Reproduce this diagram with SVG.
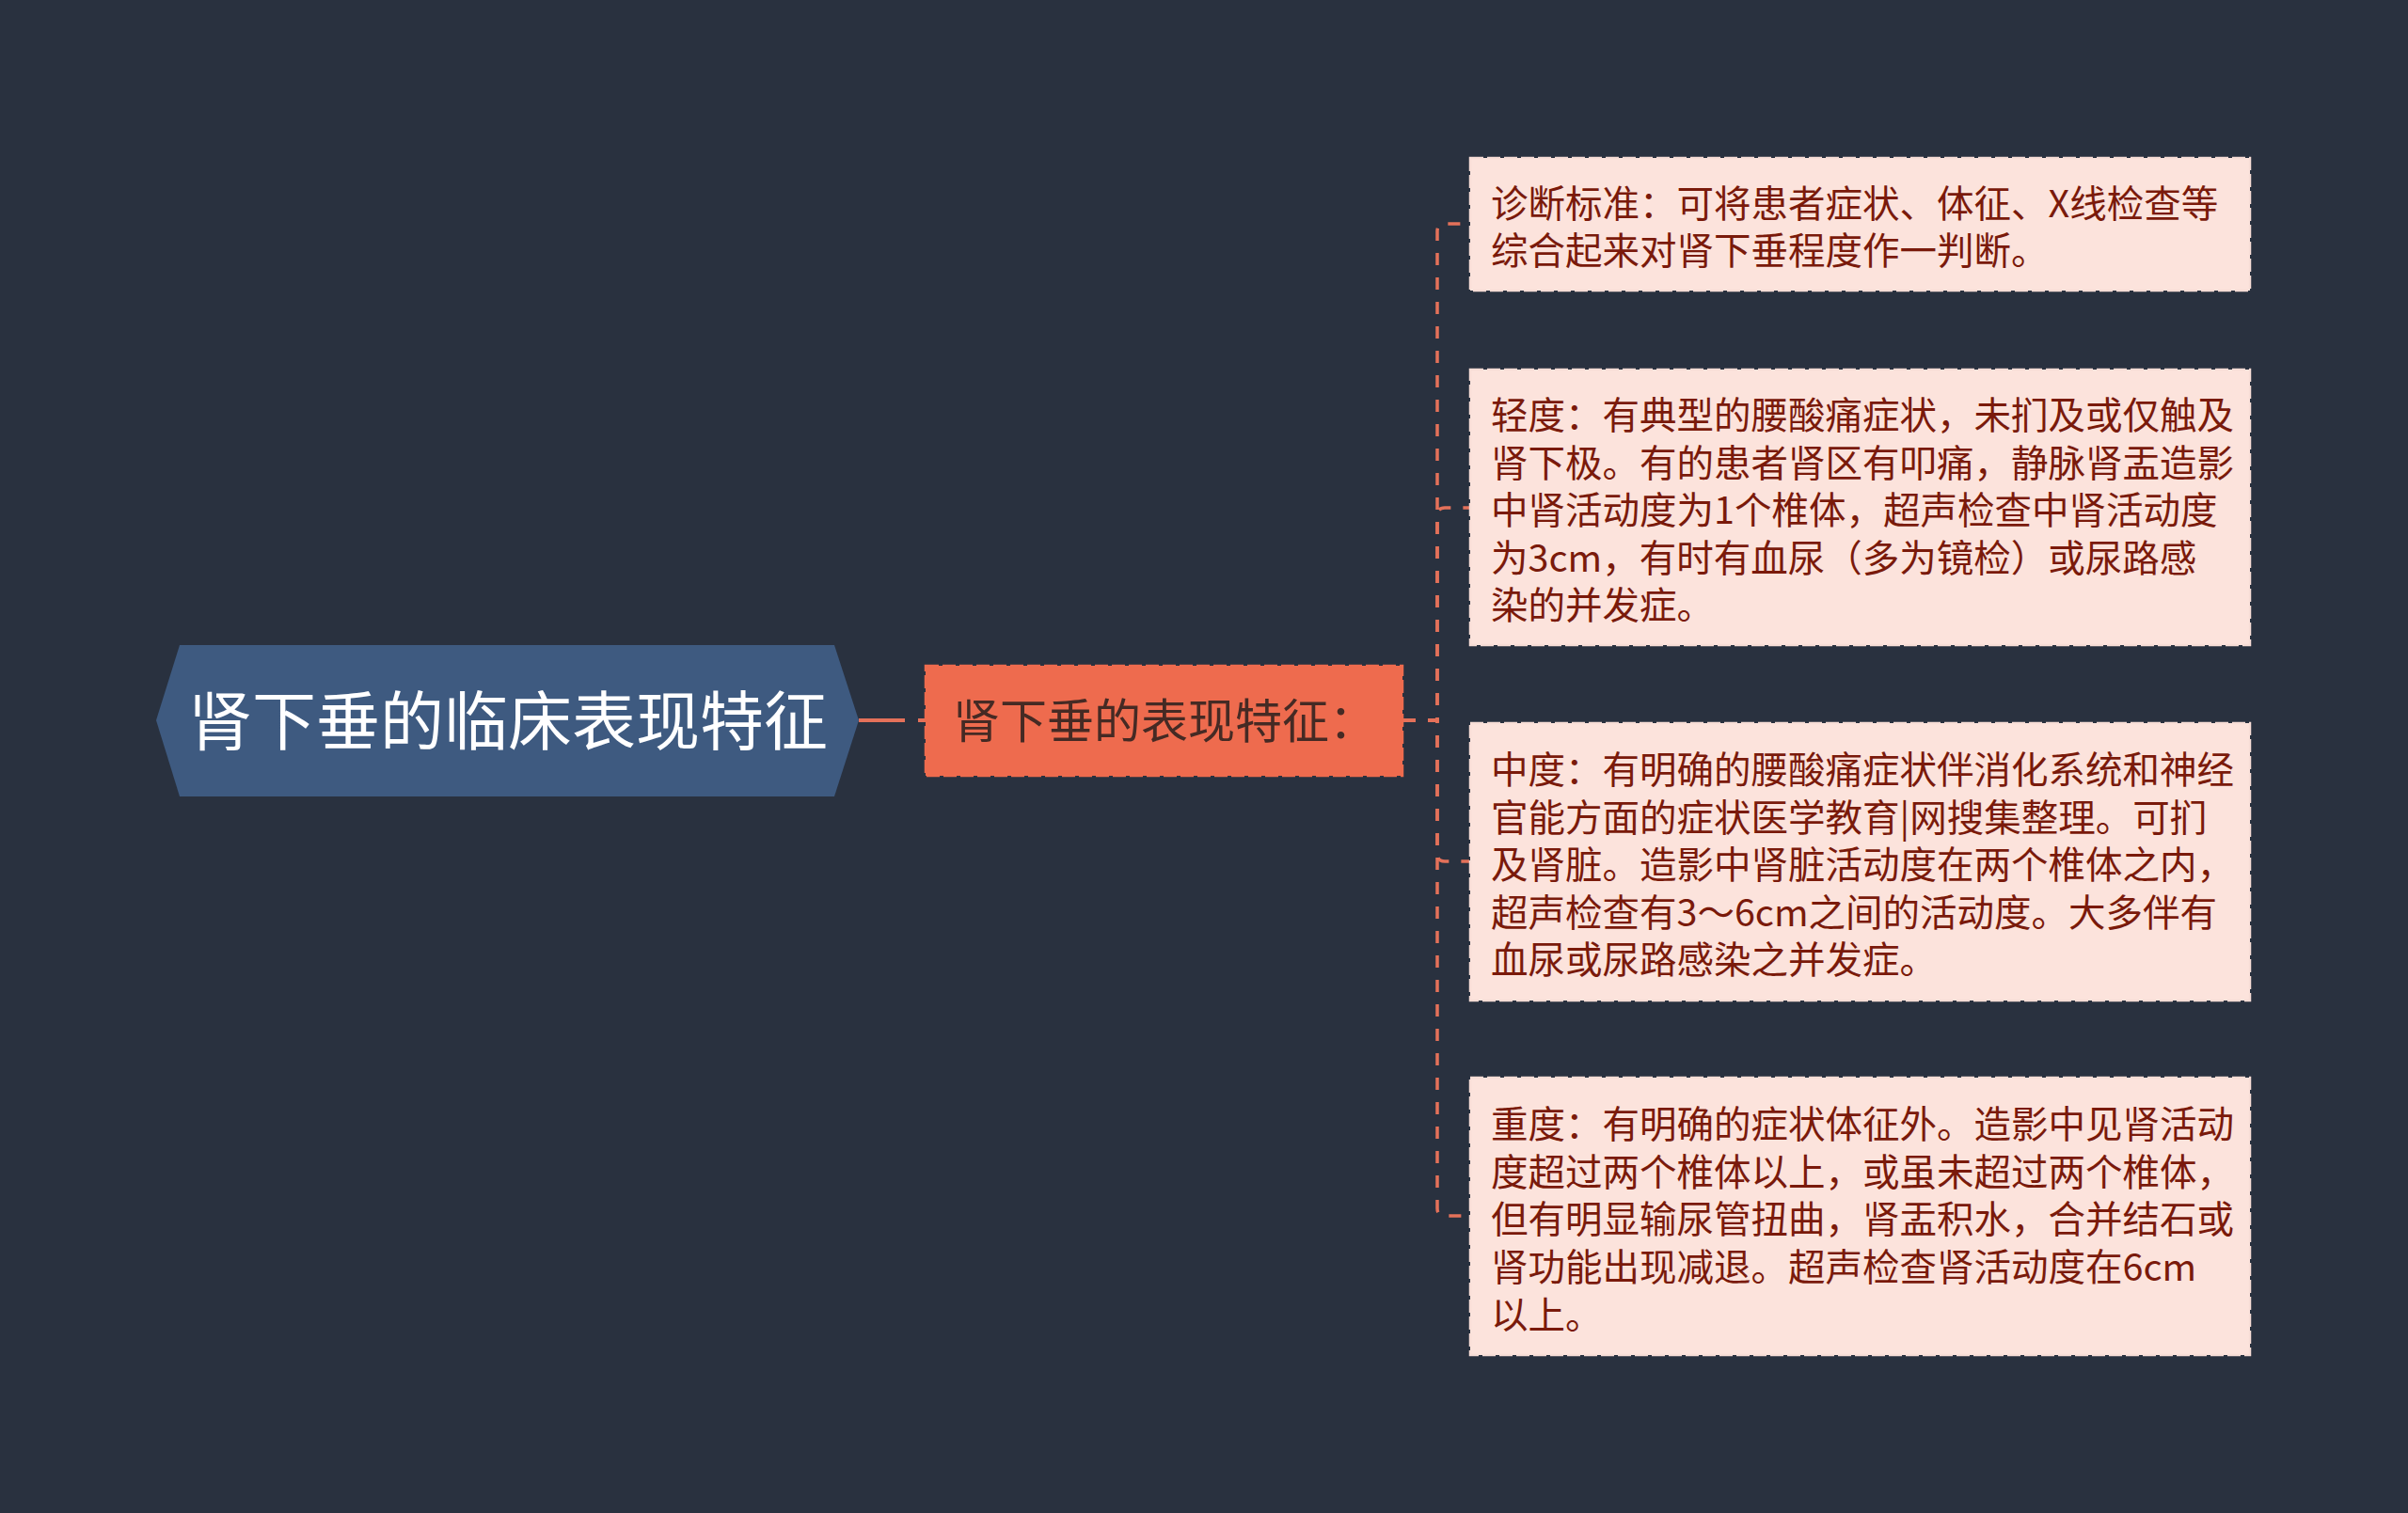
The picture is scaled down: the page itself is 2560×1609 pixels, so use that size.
<svg xmlns="http://www.w3.org/2000/svg" width="2560" height="1609" viewBox="0 0 2560 1609">
<style>
.bg{fill:#29313f}
.conn{fill:none;stroke:#e4715a;stroke-width:3.5;stroke-dasharray:13 13}
.leaf rect{fill:#fce3dc;stroke:#f7ddd6;stroke-width:2.5;stroke-dasharray:14 4}
.leaf text{font-family:"Noto Sans CJK SC","Liberation Sans",sans-serif;font-size:39.5px;fill:#7a1a0b}
</style>
<rect class="bg" x="0" y="0" width="2560" height="1609"/>
<g id="connectors">
<path d="M913,766 H983" fill="none" stroke="#e4715a" stroke-width="4" stroke-dasharray="49 14"/>
<path class="conn" d="M1492,766 H1528 V246 Q1528,238 1536,238 H1562"/>
<path class="conn" d="M1492,766 H1528 V548 Q1528,540 1536,540 H1562"/>
<path class="conn" d="M1492,766 H1528 V908 Q1528,916 1536,916 H1562"/>
<path class="conn" d="M1492,766 H1528 V1285 Q1528,1293 1536,1293 H1562"/>
</g>
<g id="root">
<polygon points="166,766 191,686 887,686 913,766 887,847 191,847" fill="#3e5a80"/>
<text x="540" y="792" text-anchor="middle" font-family="Noto Sans CJK SC, Liberation Sans, sans-serif" font-size="68" fill="#ffffff">肾下垂的临床表现特征</text>
</g>
<g id="middle">
<rect x="984" y="708" width="507" height="117" fill="#ee6b4e" stroke="#ee6b4e" stroke-width="2.5" stroke-dasharray="14 4"/>
<text x="1238" y="785" text-anchor="middle" font-family="Noto Sans CJK SC, Liberation Sans, sans-serif" font-size="50" fill="#452a24">肾下垂的表现特征：</text>
</g>
<g id="leaf1" class="leaf">
<rect x="1563" y="168" width="829" height="141"/>
<text><tspan x="1585" y="231">诊断标准：可将患者症状、体征、X线检查等</tspan><tspan x="1585" y="281">综合起来对肾下垂程度作一判断。</tspan></text>
</g>
<g id="leaf2" class="leaf">
<rect x="1563" y="393" width="829" height="293"/>
<text><tspan x="1585" y="456">轻度：有典型的腰酸痛症状，未扪及或仅触及</tspan><tspan x="1585" y="507">肾下极。有的患者肾区有叩痛，静脉肾盂造影</tspan><tspan x="1585" y="557">中肾活动度为1个椎体，超声检查中肾活动度</tspan><tspan x="1585" y="608">为3cm，有时有血尿（多为镜检）或尿路感</tspan><tspan x="1585" y="658">染的并发症。</tspan></text>
</g>
<g id="leaf3" class="leaf">
<rect x="1563" y="769" width="829" height="295"/>
<text><tspan x="1585" y="833">中度：有明确的腰酸痛症状伴消化系统和神经</tspan><tspan x="1585" y="884">官能方面的症状医学教育|网搜集整理。可扪</tspan><tspan x="1585" y="934">及肾脏。造影中肾脏活动度在两个椎体之内，</tspan><tspan x="1585" y="985">超声检查有3～6cm之间的活动度。大多伴有</tspan><tspan x="1585" y="1035">血尿或尿路感染之并发症。</tspan></text>
</g>
<g id="leaf4" class="leaf">
<rect x="1563" y="1146" width="829" height="295"/>
<text><tspan x="1585" y="1210">重度：有明确的症状体征外。造影中见肾活动</tspan><tspan x="1585" y="1261">度超过两个椎体以上，或虽未超过两个椎体，</tspan><tspan x="1585" y="1311">但有明显输尿管扭曲，肾盂积水，合并结石或</tspan><tspan x="1585" y="1362">肾功能出现减退。超声检查肾活动度在6cm</tspan><tspan x="1585" y="1413">以上。</tspan></text>
</g>
</svg>
